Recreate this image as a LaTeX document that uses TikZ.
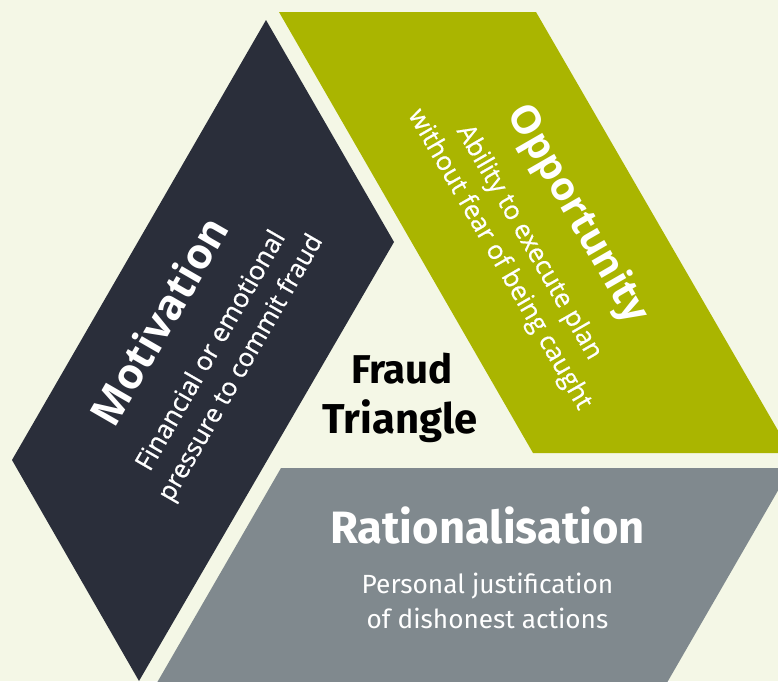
\documentclass[tikz,border=0pt]{standalone}
\usepackage{fontspec}
\usepackage{graphicx}
\setmainfont{Fira Sans}
\newfontfamily\opensans{Open Sans}
\newfontfamily\opensanssub[FakeBold=0.6]{Open Sans}
\newcommand{\fitw}[2]{\resizebox{#1}{!}{#2}}
\definecolor{bgc}{HTML}{F4F7E6}
\definecolor{darkc}{HTML}{2A2E3A}
\definecolor{greenc}{HTML}{AAB500}
\definecolor{grayc}{HTML}{80898E}
\tikzset{
  rtitle/.style={font=\opensans\bfseries\fontsize{40}{48}\selectfont, text=white, inner sep=0pt, transform shape, anchor=base},
  rsub/.style={font=\opensanssub\fontsize{26}{34}\selectfont, text=white, inner sep=0pt, transform shape, anchor=base},
  htitle/.style={font=\bfseries\fontsize{44}{50}\selectfont, inner sep=0pt, anchor=base},
  hsub/.style={font=\fontsize{25}{35}\selectfont, text=white, inner sep=0pt, anchor=base},
}
\begin{document}
\begin{tikzpicture}[x=1pt,y=-1pt]
\useasboundingbox (0,0) rectangle (778,681);
\fill[bgc] (0,0) rectangle (778,681);
\begin{scope}
  \clip (0,0) rectangle (778,681);
  \fill[darkc] (266,20) -- (394,242) -- (139,681) -- (12,460) -- cycle;
  \fill[greenc] (279,12) -- (536,12) -- (791,453) -- (533,453) -- cycle;
  \fill[grayc] (281,468) -- (791,468) -- (657,700) -- (147,700) -- cycle;
\end{scope}
% Motivation
\begin{scope}[shift={(160.7,321.7)}, rotate=60]
  \node[rtitle] (mot) at (0,14) {\fitw{232pt}{Motivation}};
  \node[rsub] (mot1) at (0,66) {\fitw{272pt}{Financial or emotional}};
  \node[rsub] (mot2) at (0,100) {\fitw{303pt}{pressure to commit fraud}};
\end{scope}
% Opportunity
\begin{scope}[shift={(580,213)}, rotate=-60]
  \node[rtitle] (opp) at (0,14) {\fitw{245pt}{Opportunity}};
  \node[rsub] (opp1) at (0,66) {\fitw{266pt}{Ability to execute plan}};
  \node[rsub] (opp2) at (0,100) {\fitw{342pt}{without fear of being caught}};
\end{scope}
% Fraud Triangle
\node[htitle] (fraud) at (402,383.3) {\fitw{102pt}{Fraud}};
\node[htitle] (tri) at (400,433.3) {\fitw{155pt}{Triangle}};
% Rationalisation
\node[htitle, text=white] (rat) at (487.5,543.3) {\fitw{315pt}{Rationalisation}};
\node[hsub] (rat1) at (487.5,593.3) {\fitw{251.6pt}{Personal justification}};
\node[hsub] (rat2) at (487.5,628.3) {\fitw{241.6pt}{of dishonest actions}};
\end{tikzpicture}
\end{document}
